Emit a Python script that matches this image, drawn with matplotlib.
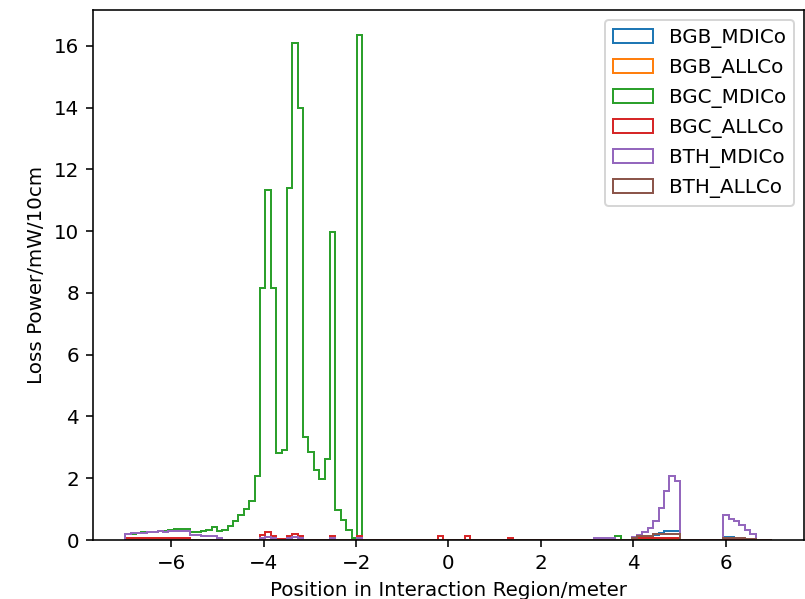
import numpy as np
import matplotlib
matplotlib.use("Agg")
import matplotlib.pyplot as plt  # noqa: E402

DPI = 143.5

# 120 bins of loss power along the interaction region (-7 m .. 7 m)
edges = np.linspace(-7, 7, 121)
centers = 0.5 * (edges[:-1] + edges[1:])

bgb_mdico = [0] * 94 + [
    0.03, 0.05, 0.06, 0.08, 0.16, 0.23, 0.29, 0.30, 0.30, 0,
    0, 0, 0, 0, 0, 0, 0, 0.10, 0.10, 0.05,
    0.03, 0, 0, 0, 0, 0]

bgb_allco = [0] * 95 + [0.04] * 8 + [0] * 8 + [0.03] * 4 + [0] * 5

bgc_mdico = [
    0.18, 0.20, 0.24, 0.25, 0.27, 0.27, 0.30, 0.30, 0.32, 0.34,
    0.37, 0.37, 0.25, 0.25, 0.28, 0.32, 0.42, 0.30, 0.33, 0.45,
    0.60, 0.80, 1.00, 1.27, 2.06, 8.17, 11.32, 8.17, 2.82, 2.90,
    11.38, 16.10, 13.98, 3.33, 2.85, 2.26, 1.96, 2.61, 9.98, 0.97,
    0.65, 0.32, 0.05, 16.34, 0, 0, 0, 0, 0, 0,
    0, 0, 0, 0, 0, 0, 0, 0, 0, 0,
    0, 0, 0, 0, 0, 0, 0, 0, 0, 0,
    0, 0, 0, 0, 0, 0, 0, 0, 0, 0,
    0, 0, 0, 0, 0, 0, 0, 0, 0, 0,
    0, 0.12, 0, 0, 0, 0, 0, 0, 0, 0.06,
    0.06, 0.06, 0.06, 0, 0, 0, 0, 0, 0, 0,
    0, 0, 0, 0, 0, 0, 0, 0, 0, 0]

e = 0.005
bgc_allco = [
    0.07, 0.07, 0.07, 0.07, 0.07, 0.07, 0.07, 0.07, 0.07, 0.07,
    0.07, 0.07, e, e, e, e, e, e, e, e,
    e, e, e, e, e, 0.15, 0.25, 0.12, 0.02, 0.02,
    0.12, 0.18, 0.12, e, e, e, e, e, 0.12, e,
    e, e, e, 0.12, e, e, e, e, e, e,
    e, e, e, e, e, e, e, e, 0.13, e,
    e, e, e, 0.13, e, e, e, e, e, e,
    e, 0.06, e, e, e, e, e, e, e, e,
    e, e, e, e, e, e, e, e, e, e,
    e, e, e, e, e, 0.05, 0.05, 0.05, 0.05, 0.05,
    0.05, 0.05, 0.05, e, e, e, e, e, e, e,
    e, 0.03, 0.03, 0.03, 0.03, 0.03, 0.03, e, e, e]

bth_mdico = [
    0.20, 0.22, 0.22, 0.23, 0.25, 0.25, 0.28, 0.27, 0.30, 0.28,
    0.30, 0.30, 0.15, 0.15, 0.14, 0.14, 0.13, 0.05, 0, 0,
    0, 0, 0, 0, 0, 0.08, 0.10, 0.08, 0, 0,
    0.08, 0.10, 0.08, 0, 0, 0, 0, 0, 0.08, 0,
    0, 0, 0, 0.08, 0, 0, 0, 0, 0, 0,
    0, 0, 0, 0, 0, 0, 0, 0, 0, 0,
    0, 0, 0, 0, 0, 0, 0, 0, 0, 0,
    0, 0, 0, 0, 0, 0, 0, 0, 0, 0,
    0, 0, 0, 0, 0, 0, 0, 0.05, 0.05, 0.05,
    0.05, 0, 0, 0, 0.09, 0.16, 0.27, 0.38, 0.61, 1.02,
    1.59, 2.06, 1.91, 0, 0, 0, 0, 0, 0, 0,
    0, 0.80, 0.68, 0.60, 0.47, 0.33, 0.20, 0, 0, 0]

bth_allco = [0.01] * 12 + [e] * 82 + [
    0.05, 0.12, 0.12, 0.12, 0.19, 0.19, 0.19, 0.19, 0.19, e,
    e, e, e, e, e, e, e, 0.06, 0.06, 0.06,
    0.05, 0.04, 0.03, e, e, e]

series = [
    ("BGB_MDICo", bgb_mdico),
    ("BGB_ALLCo", bgb_allco),
    ("BGC_MDICo", bgc_mdico),
    ("BGC_ALLCo", bgc_allco),
    ("BTH_MDICo", bth_mdico),
    ("BTH_ALLCo", bth_allco),
]

W, H = 805, 599
fig = plt.figure(figsize=(W / DPI, H / DPI), dpi=DPI)
ax = fig.add_axes([93 / W, (H - 540) / H, 711 / W, 530 / H])
for name, vals in series:
    ax.hist(centers, bins=edges, weights=vals, histtype="step", label=name)
ax.set_xlabel("Position in Interaction Region/meter")
ax.set_ylabel("Loss Power/mW/10cm")
ax.legend(loc="upper right")
fig.savefig("out.png", dpi=DPI)
